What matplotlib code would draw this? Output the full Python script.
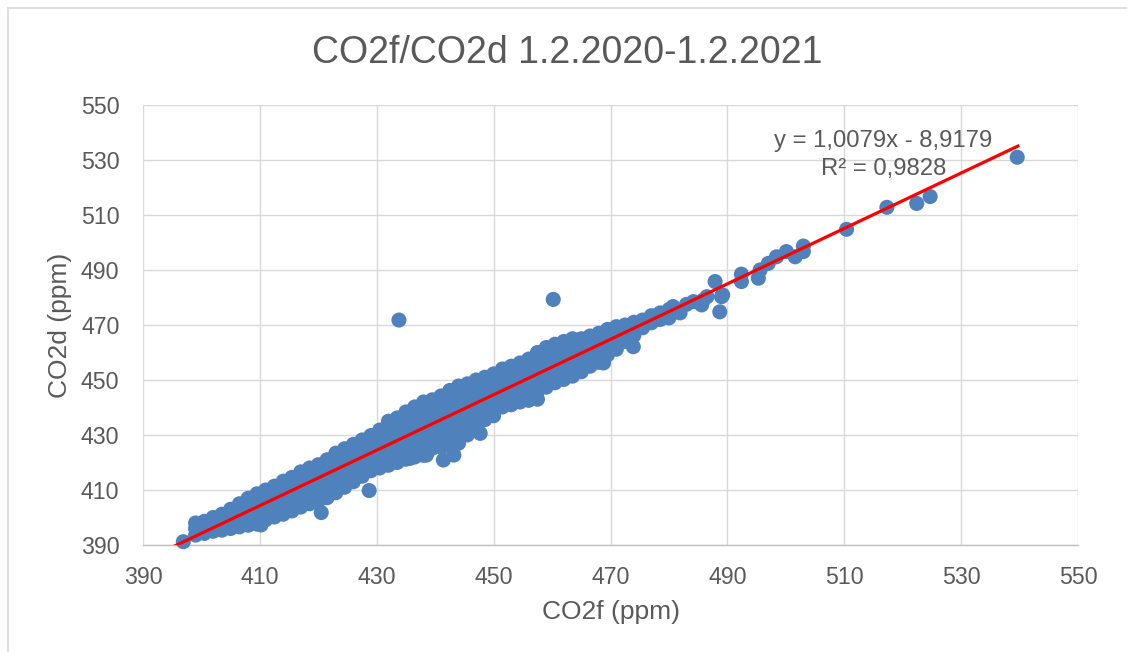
import matplotlib
matplotlib.use("Agg")
import matplotlib.pyplot as plt
import numpy as np
from matplotlib.lines import Line2D

plt.rcParams["font.family"] = ["Liberation Sans", "DejaVu Sans"]

# dense part of the cloud: one CO2f value per column, CO2d values
co2f_cols = [399.0, 400.5, 402.0, 403.5, 405.0, 406.5, 408.0, 409.5, 411.0, 412.5,
             414.0, 415.5, 417.0, 418.5, 420.0, 421.5, 423.0, 424.5, 426.0, 427.5,
             429.0, 430.5, 432.0, 433.5, 435.0, 436.5, 438.0, 439.5, 441.0, 442.5,
             444.0, 445.5, 447.0, 448.5, 450.0, 451.5, 453.0, 454.5, 456.0, 457.5,
             459.0, 460.5, 462.0, 463.5, 465.0, 466.5, 468.0, 469.5, 471.0, 472.5,
             474.0, 475.5, 477.0, 478.5, 480.0]
co2d_cols = [
    [393.6, 396.0, 398.0],
    [394.2, 396.8, 398.6],
    [395.0, 397.6, 400.0],
    [395.4, 398.2, 401.2],
    [396.0, 399.0, 401.8, 403.0],
    [396.6, 399.4, 402.2, 405.0],
    [397.2, 400.0, 403.0, 405.8, 407.0],
    [397.6, 400.6, 403.6, 406.4, 408.6],
    [399.2, 402.0, 405.0, 407.8, 410.0],
    [400.2, 403.0, 406.0, 409.0, 411.4],
    [401.2, 404.2, 407.2, 410.2, 413.2],
    [402.4, 405.4, 408.4, 411.4, 414.6],
    [403.8, 406.8, 409.8, 412.8, 415.4, 416.6],
    [405.0, 408.0, 411.0, 414.0, 416.8, 418.0],
    [406.0, 409.0, 412.0, 415.0, 417.6, 419.2],
    [407.2, 410.2, 413.2, 416.2, 419.0, 421.0],
    [409.0, 412.0, 415.0, 418.0, 421.0, 423.4],
    [411.0, 414.0, 417.0, 420.0, 422.8, 425.0],
    [413.0, 416.0, 419.0, 422.0, 424.6, 426.6],
    [415.0, 418.0, 421.0, 424.0, 426.4, 428.2],
    [417.0, 420.0, 423.0, 426.0, 428.4, 429.8],
    [418.0, 421.0, 424.0, 427.0, 430.0, 431.8],
    [419.0, 422.0, 425.0, 428.0, 431.0, 433.6, 435.0],
    [420.0, 423.0, 426.0, 429.0, 432.0, 434.6, 436.2],
    [421.2, 424.0, 427.0, 430.0, 433.0, 436.0, 438.4],
    [422.0, 425.0, 428.0, 431.0, 434.0, 437.0, 440.2],
    [422.6, 425.6, 428.6, 431.6, 434.6, 437.6, 440.4, 442.0],
    [425.2, 428.2, 431.2, 434.2, 437.2, 440.2, 442.8],
    [425.6, 428.6, 431.6, 434.6, 437.6, 440.6, 443.2, 444.2],
    [426.0, 429.0, 432.0, 435.0, 438.0, 441.0, 444.0, 446.2],
    [427.0, 430.0, 433.0, 436.0, 439.0, 442.0, 445.0, 447.8],
    [430.0, 433.0, 436.0, 439.0, 442.0, 445.0, 448.6],
    [434.0, 437.0, 440.0, 443.0, 446.0, 448.6, 450.0],
    [435.6, 438.6, 441.6, 444.6, 447.6, 451.0],
    [437.0, 440.0, 443.0, 446.0, 449.0, 452.2],
    [440.2, 443.0, 446.0, 449.0, 451.8, 454.0],
    [441.0, 444.0, 447.0, 450.0, 453.0, 455.0],
    [442.0, 445.0, 448.0, 451.0, 454.0, 456.2],
    [442.6, 445.6, 448.6, 451.6, 454.6, 457.6],
    [443.0, 446.0, 449.0, 452.0, 455.0, 458.0, 460.0],
    [447.4, 450.4, 453.4, 456.4, 459.4, 461.8],
    [449.0, 452.0, 455.0, 458.0, 461.0, 463.0],
    [450.2, 453.2, 456.2, 459.2, 462.2, 464.0],
    [451.4, 454.4, 457.4, 460.4, 463.2, 465.0],
    [453.0, 456.0, 459.0, 462.0, 465.0],
    [455.0, 458.0, 461.0, 463.8, 466.0],
    [456.4, 459.4, 462.4, 465.2, 467.0],
    [459.2, 462.0, 465.0, 468.4],
    [461.2, 464.2, 467.0, 469.4],
    [464.0, 467.0, 470.0],
    [466.2, 468.8, 471.0],
    [469.0, 471.8],
    [470.8, 473.4],
    [472.0, 474.4],
    [472.6, 475.6],
]

# single points: outliers and the sparse upper tail
co2f_sparse = [396.9, 410.2, 420.5, 428.7, 433.8, 435.7, 438.5, 441.4, 443.2, 447.7,
               460.2, 468.8, 473.9, 480.7, 481.9, 483.0, 484.2, 485.6, 485.9, 486.5,
               487.9, 488.7, 489.0, 489.2, 492.4, 492.4, 495.3, 495.6, 497.0, 498.4,
               500.1, 501.6, 503.0, 503.0, 510.4, 517.3, 522.4, 524.7, 539.6]
co2d_sparse = [391.2, 397.3, 401.8, 409.8, 471.8, 421.5, 422.7, 420.9, 422.7, 430.6,
               479.3, 456.2, 462.1, 476.7, 474.4, 477.5, 478.5, 477.3, 479.1, 480.3,
               485.8, 474.8, 480.3, 480.9, 488.5, 485.8, 487.0, 490.0, 492.4, 494.8,
               496.7, 494.8, 498.7, 496.7, 504.8, 512.8, 514.2, 516.7, 531.0]

# linear trendline as printed on the chart
slope = 1.0079
intercept = -8.9179
r2 = 0.9828
trend_range = [395.0, 539.7]

ticks = [390, 410, 430, 450, 470, 490, 510, 530, 550]

co2f = [x for x, ys in zip(co2f_cols, co2d_cols) for _ in ys] + co2f_sparse
co2d = [y for ys in co2d_cols for y in ys] + co2d_sparse

text_color = "#595959"
grid_color = "#D9D9D9"

fig = plt.figure(figsize=(11.27, 6.52), dpi=100)
ax = fig.add_axes([143 / 1127, 107 / 652, 935 / 1127, 440 / 652])

ax.scatter(co2f, co2d, s=118, color="#4F81BD", edgecolors="none", zorder=3, clip_on=False)

xt = np.array(trend_range)
ax.plot(xt, slope * xt + intercept, color="#FF0000", lw=2.3, zorder=4)

ax.set_xlim(390, 550)
ax.set_ylim(390, 550)
ax.set_xticks(ticks)
ax.set_yticks(ticks)
ax.grid(True, color=grid_color, lw=1.0, zorder=0)
ax.set_axisbelow(True)
ax.tick_params(length=0, labelsize=16.7, colors=text_color)
ax.tick_params(axis="x", pad=15)
ax.tick_params(axis="y", pad=17)
for side in ["top", "right", "left"]:
    ax.spines[side].set_visible(False)
ax.spines["bottom"].set_color("#BFBFBF")
ax.spines["bottom"].set_linewidth(1.0)

ax.set_xlabel("CO2f (ppm)", fontsize=19, color=text_color)
ax.set_ylabel("CO2d (ppm)", fontsize=19, color=text_color)
ax.xaxis.set_label_coords(0.5, -0.125)
ax.yaxis.set_label_coords(-0.076, 0.5)

fig.text(567.5 / 1127, 1 - 63 / 652, "CO2f/CO2d 1.2.2020-1.2.2021", fontsize=27,
         color=text_color, ha="center", va="baseline")

eq = "y = {:.4f}x - {:.4f}".format(slope, -intercept).replace(".", ",")
r2_text = "R² = {:.4f}".format(r2).replace(".", ",")
ax.text(516.7, 534.8, eq, fontsize=17.2, color=text_color, ha="center", va="baseline", zorder=5)
ax.text(516.7, 524.5, r2_text, fontsize=17.2, color=text_color, ha="center", va="baseline", zorder=5)

# chart area border (top and left edge visible in the screenshot)
x0 = 8 / 1127
y0 = 1 - 8 / 652
fig.add_artist(Line2D([x0, 1], [y0, y0], color=grid_color, lw=1.2, transform=fig.transFigure))
fig.add_artist(Line2D([x0, x0], [0, y0], color=grid_color, lw=1.2, transform=fig.transFigure))

fig.savefig("out.png", dpi=100)
